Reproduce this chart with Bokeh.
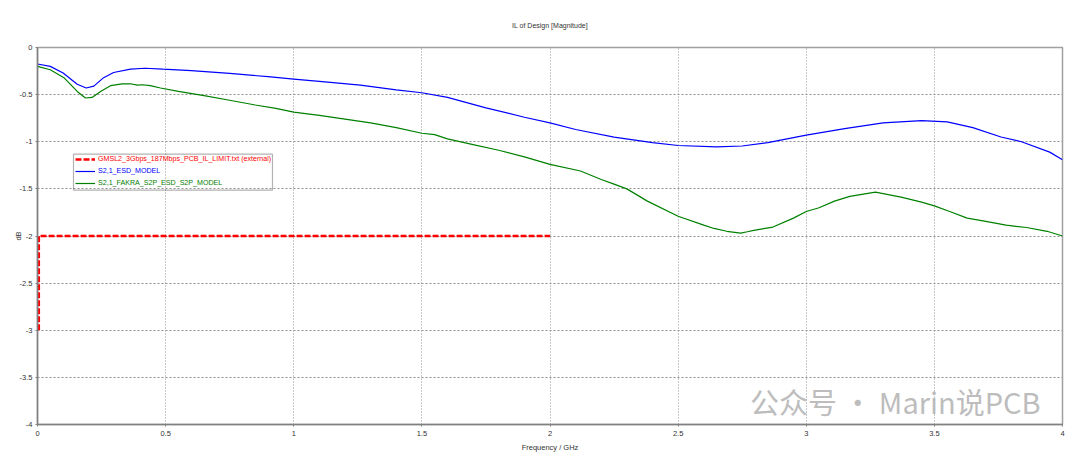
from bokeh.plotting import figure
from bokeh.models import (Legend, LegendItem, BoxAnnotation, Label, FixedTicker, Range1d)
from bokeh.embed import file_html
from bokeh.resources import INLINE

# ---------------- data ----------------
blue_f = [0.0, 0.05, 0.10, 0.155, 0.19, 0.22, 0.258, 0.297, 0.363, 0.42, 0.49, 0.6, 0.75, 0.9,
          1.0, 1.1, 1.26, 1.4, 1.5, 1.6, 1.75, 1.9, 2.0, 2.1, 2.25, 2.4, 2.5, 2.65, 2.75, 2.85,
          3.0, 3.15, 3.3, 3.45, 3.55, 3.65, 3.76, 3.84, 3.95, 4.0]
blue_db = [-0.175, -0.20, -0.27, -0.39, -0.43, -0.41, -0.32, -0.265, -0.23, -0.22, -0.23, -0.245,
           -0.275, -0.31, -0.335, -0.36, -0.40, -0.45, -0.48, -0.53, -0.64, -0.74, -0.80, -0.87,
           -0.95, -1.01, -1.04, -1.055, -1.045, -1.01, -0.93, -0.86, -0.80, -0.776, -0.79, -0.85,
           -0.95, -1.00, -1.11, -1.19]

green_f = [0.0, 0.05, 0.103, 0.155, 0.187, 0.213, 0.246, 0.285, 0.33, 0.363, 0.39, 0.41, 0.44,
           0.48, 0.55, 0.65, 0.75, 0.85, 0.93, 1.0, 1.1, 1.2, 1.3, 1.4, 1.5, 1.55, 1.6, 1.7, 1.8,
           1.9, 2.0, 2.119, 2.2, 2.25, 2.3, 2.38, 2.5, 2.6, 2.64, 2.69, 2.744, 2.77, 2.795, 2.87,
           2.95, 3.0, 3.05, 3.11, 3.17, 3.27, 3.37, 3.45, 3.5, 3.56, 3.628, 3.69, 3.78, 3.86, 3.94,
           4.0]
green_db = [-0.20, -0.236, -0.32, -0.466, -0.536, -0.53, -0.466, -0.405, -0.385, -0.385, -0.40,
            -0.395, -0.405, -0.43, -0.465, -0.51, -0.56, -0.61, -0.645, -0.685, -0.72, -0.76,
            -0.80, -0.85, -0.91, -0.925, -0.97, -1.03, -1.09, -1.16, -1.24, -1.31, -1.40, -1.45,
            -1.50, -1.63, -1.79, -1.885, -1.92, -1.95, -1.97, -1.955, -1.94, -1.905, -1.81, -1.74,
            -1.70, -1.63, -1.58, -1.535, -1.587, -1.64, -1.68, -1.74, -1.81, -1.84, -1.885, -1.91,
            -1.95, -2.0]

limit_f = [0.005, 0.005, 2.0]
limit_db = [-3.0, -2.0, -2.0]

x_ticks = [0, 0.5, 1, 1.5, 2, 2.5, 3, 3.5, 4]
x_tick_labels = ["0", "0.5", "1", "1.5", "2", "2.5", "3", "3.5", "4"]
y_ticks = [0, -0.5, -1, -1.5, -2, -2.5, -3, -3.5, -4]
y_tick_labels = ["0", "-0.5", "-1", "-1.5", "-2", "-2.5", "-3", "-3.5", "-4"]

series_names = ["GMSL2_3Gbps_187Mbps_PCB_IL_LIMIT.txt (external)",
                "S2,1_ESD_MODEL",
                "S2,1_FAKRA_S2P_ESD_S2P_MODEL"]
series_colors = ["#ff0000", "#0000ff", "#008000"]

# ---------------- figure ----------------
FONT = "Liberation Sans"
p = figure(width=1080, height=458, output_backend="svg", toolbar_location=None,
           x_range=Range1d(0, 4), y_range=Range1d(-4, 0),
           title="IL of Design [Magnitude]",
           min_border_left=37, min_border_right=18, min_border_top=46, min_border_bottom=34)
p.background_fill_color = "white"
p.border_fill_color = "white"
p.outline_line_color = "#a0a0a0"
p.outline_line_width = 1.5

p.title.align = "center"
p.title.text_font = FONT
p.title.text_font_size = "7px"
p.title.text_font_style = "normal"
p.title.text_color = "#333333"
p.title.standoff = 38

for ax, ticks, labels in ((p.xaxis[0], x_ticks, x_tick_labels), (p.yaxis[0], y_ticks, y_tick_labels)):
    ax.ticker = FixedTicker(ticks=ticks)
    ax.major_label_overrides = {t: l for t, l in zip(ticks, labels)}
    ax.major_label_text_font = FONT
    ax.major_label_text_font_size = "7.5px"
    ax.major_label_text_color = "#333333"
    ax.axis_line_color = "#808080"
    ax.axis_line_width = 1.5
    ax.major_tick_line_color = "#808080"
    ax.major_tick_out = 2
    ax.major_tick_in = 0
    ax.minor_tick_line_color = None
    ax.axis_label_text_font = FONT
    ax.axis_label_text_font_size = "7.5px"
    ax.axis_label_text_font_style = "normal"
    ax.axis_label_text_color = "#333333"

p.xaxis.axis_label = "Frequency / GHz"
p.xaxis.major_label_standoff = 4
p.xaxis.axis_label_standoff = 4
p.yaxis.axis_label = "dB"
p.yaxis.major_label_standoff = 3
p.yaxis.axis_label_standoff = -6

p.xgrid.grid_line_color = "#909090"
p.xgrid.grid_line_dash = "1 2"
p.ygrid.grid_line_color = "#909090"
p.ygrid.grid_line_dash = "2 2"

r_lim = p.line(limit_f, limit_db, line_color=series_colors[0], line_width=2.6, line_dash="6 2")
r_blue = p.line(blue_f, blue_db, line_color=series_colors[1], line_width=1.2)
r_green = p.line(green_f, green_db, line_color=series_colors[2], line_width=1.2)

# legend: three stacked single-item legends, each in its own text colour
renderers = [r_lim, r_blue, r_green]
loc_y = [259, 247, 235]
for r, name, col, ly in zip(renderers, series_names, series_colors, loc_y):
    lg = Legend(items=[LegendItem(label=name, renderers=[r])], location=(38, ly),
                glyph_width=20, glyph_height=12, label_height=12, label_standoff=3,
                padding=0, spacing=0, margin=0,
                border_line_color=None, background_fill_alpha=0,
                label_text_font=FONT, label_text_font_size="7.1px", label_text_color=col)
    p.add_layout(lg)

box = BoxAnnotation(left=0.1405, right=0.917, top=-1.132, bottom=-1.513,
                    fill_alpha=0, line_color="black", line_width=1.2)
p.add_layout(box)

wm = Label(x=2.78, y=-3.97, text="公众号 · Marin说PCB", text_font="Noto Sans CJK SC",
           text_font_size="29px", text_color="#b4b4b4", text_alpha=0.9)
p.add_layout(wm)

open("out.html", "w").write(file_html(p, INLINE))
